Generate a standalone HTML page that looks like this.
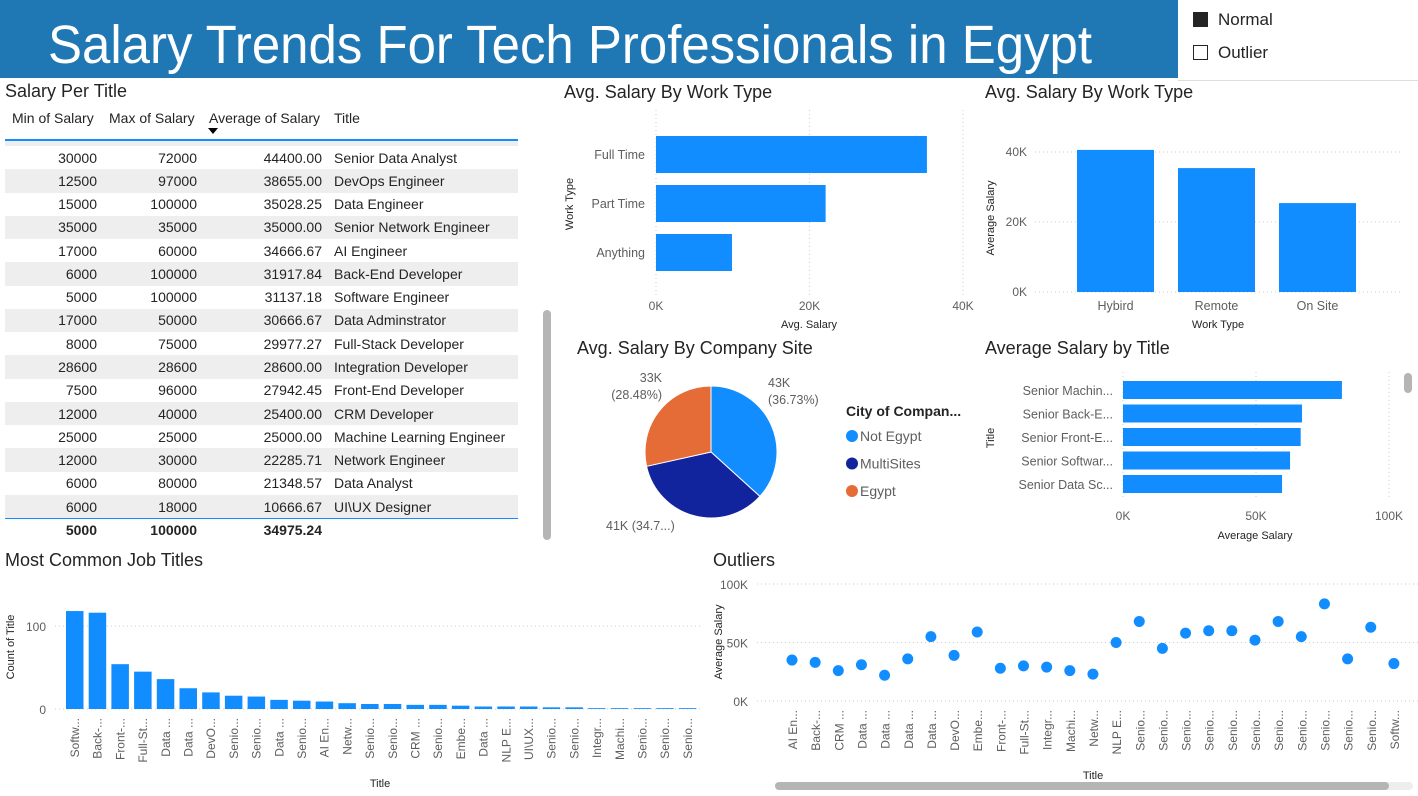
<!DOCTYPE html>
<html><head><meta charset="utf-8">
<style>
body{margin:0;width:1418px;height:796px;overflow:hidden;background:#fff;font-family:"Liberation Sans",sans-serif;position:relative}
.abs{position:absolute}
.t{font-size:18px;color:#252423}
table{border-collapse:collapse;font-size:14px;color:#252423}
td{height:23.27px;padding:0;white-space:nowrap}
</style></head><body>
<div class="abs" style="left:0;top:0;width:1178px;height:78px;background:#1f77b4"></div>
<svg class="abs" style="left:0;top:0" width="1178" height="78"><text x="48" y="63" font-size="54" fill="#fff" textLength="1044" lengthAdjust="spacingAndGlyphs" font-family="Liberation Sans,sans-serif">Salary Trends For Tech Professionals in Egypt</text></svg>
<div class="abs" style="left:1178px;top:0;width:240px;height:80px;border-bottom:1px solid #ddd"></div>
<div class="abs" style="left:1193px;top:10px;font-size:17px;color:#252423"><span style="display:inline-block;width:15px;height:15px;background:#252423;vertical-align:-2px;margin-right:10px"></span>Normal</div>
<div class="abs" style="left:1193px;top:43px;font-size:17px;color:#252423"><span style="display:inline-block;width:13px;height:13px;border:1px solid #252423;vertical-align:-2px;margin-right:10px"></span>Outlier</div>

<div class="abs t" style="left:5px;top:81px">Salary Per Title</div>
<div class="abs" style="left:0;top:110px;width:518px;font-size:14px;color:#252423">
<span class="abs" style="left:12px">Min of Salary</span><span class="abs" style="left:109px">Max of Salary</span><span class="abs" style="left:209px">Average of Salary</span><span class="abs" style="left:334px">Title</span>
<span class="abs" style="left:208px;top:18px;width:0;height:0;border-left:5px solid transparent;border-right:5px solid transparent;border-top:6px solid #000"></span></div>
<div class="abs" style="left:5px;top:139px;width:513px;height:2px;background:#118DFF"></div>
<div class="abs" style="left:5px;top:141px;width:513px;height:5px;background:#eee"></div>
<div class="abs" style="left:5px;top:146px;width:513px">
<table style="width:513px" id="tbl"></table></div>
<div class="abs" style="left:5px;top:518px;width:513px;height:1px;background:#118DFF"></div>
<div class="abs" style="left:5px;top:522px;width:513px;font-size:14px;font-weight:bold;color:#252423">
<span class="abs" style="right:421px">5000</span><span class="abs" style="right:321px">100000</span><span class="abs" style="right:196px">34975.24</span></div>
<div class="abs" style="left:543px;top:310px;width:8px;height:230px;background:#b5b5b5;border-radius:4px"></div>

<svg id="ch" class="abs" style="left:0;top:0" width="1418" height="796" font-family="Liberation Sans,sans-serif"></svg>
<script>
const rows=[[30000,72000,"44400.00","Senior Data Analyst"],[12500,97000,"38655.00","DevOps Engineer"],[15000,100000,"35028.25","Data Engineer"],[35000,35000,"35000.00","Senior Network Engineer"],[17000,60000,"34666.67","AI Engineer"],[6000,100000,"31917.84","Back-End Developer"],[5000,100000,"31137.18","Software Engineer"],[17000,50000,"30666.67","Data Adminstrator"],[8000,75000,"29977.27","Full-Stack Developer"],[28600,28600,"28600.00","Integration Developer"],[7500,96000,"27942.45","Front-End Developer"],[12000,40000,"25400.00","CRM Developer"],[25000,25000,"25000.00","Machine Learning Engineer"],[12000,30000,"22285.71","Network Engineer"],[6000,80000,"21348.57","Data Analyst"],[6000,18000,"10666.67","UI\\UX Designer"]];
const tb=document.getElementById('tbl');
rows.forEach((r,i)=>{const tr=document.createElement('tr');


if(i%2==1)tr.style.background='#eee';
tr.innerHTML=`<td style="width:92px;text-align:right">${r[0]}</td><td style="width:100px;text-align:right">${r[1]}</td><td style="width:125px;text-align:right">${r[2]}</td><td style="padding-left:12px">${r[3]}</td>`;tb.appendChild(tr);});

const S=document.getElementById('ch');const NS='http://www.w3.org/2000/svg';
function el(tag,a,txt){const e=document.createElementNS(NS,tag);for(const k in a)e.setAttribute(k,a[k]);if(txt!==undefined)e.textContent=txt;S.appendChild(e);return e;}
const blue='#118DFF',grey='#605E5C';
function title(x,y,t,n){const e=el('text',{x,y,'font-size':18,fill:'#252423'},t);}
function grid(x1,y1,x2,y2){el('line',{x1,y1,x2,y2,stroke:'#ccc','stroke-dasharray':'1 3'});}

// Chart 1: work type horizontal
const wtCats=['Full Time','Part Time','Anything'];
const wtVals=[35300,22100,9900];
const wtTicks=[0,20000,40000];const wtTickLbl=['0K','20K','40K'];
title(564,98,'Avg. Salary By Work Type','worktype-hbar-title');
const x1=v=>656+v/40000*307;
wtTicks.forEach((t,i)=>{grid(x1(t),110,x1(t),295);el('text',{x:x1(t),y:310,'font-size':12,fill:grey,'text-anchor':'middle'},wtTickLbl[i]);});
wtCats.forEach((c,i)=>{const y=136+i*49;const b=el('rect',{x:656,y,width:x1(wtVals[i])-656,height:37,fill:blue});


el('text',{x:645,y:y+23,'font-size':12.5,fill:grey,'text-anchor':'end'},c);});
el('text',{x:809,y:328,'font-size':11,fill:'#252423','text-anchor':'middle'},'Avg. Salary');
el('text',{x:0,y:0,'font-size':11,fill:'#252423','text-anchor':'middle',transform:'translate(573,204) rotate(-90)'},'Work Type');

// Chart 2: work type vertical
const wt2Cats=['Hybird','Remote','On Site'];
const wt2Vals=[40600,35400,25400];
const wt2Ticks=[0,20000,40000];const wt2Lbl=['0K','20K','40K'];
title(985,98,'Avg. Salary By Work Type','worktype-vbar-title');
const y2=v=>292-v/40000*140;
wt2Ticks.forEach((t,i)=>{grid(1035,y2(t),1400,y2(t));el('text',{x:1027,y:y2(t)+4,'font-size':12,fill:grey,'text-anchor':'end'},wt2Lbl[i]);});
wt2Cats.forEach((c,i)=>{const x=1077+i*101;const b=el('rect',{x,y:y2(wt2Vals[i]),width:77,height:292-y2(wt2Vals[i]),fill:blue});


el('text',{x:x+38.5,y:310,'font-size':12.5,fill:grey,'text-anchor':'middle'},c);});
el('text',{x:1218,y:328,'font-size':11,fill:'#252423','text-anchor':'middle'},'Work Type');
el('text',{x:0,y:0,'font-size':11,fill:'#252423','text-anchor':'middle',transform:'translate(994,218) rotate(-90)'},'Average Salary');

// Pie
const pieCats=['Not Egypt','MultiSites','Egypt'];
const pieVals=[36.73,34.79,28.48];
const pieCols=['#118DFF','#12239E','#E66C37'];
title(577,354,'Avg. Salary By Company Site','pie-title');
let a0=-Math.PI/2;const cx=711,cy=452,r=66;
pieVals.forEach((v,i)=>{const a1=a0+v/100*2*Math.PI;const p=el('path',{d:`M${cx},${cy}L${cx+r*Math.cos(a0)},${cy+r*Math.sin(a0)}A${r},${r} 0 ${a1-a0>Math.PI?1:0} 1 ${cx+r*Math.cos(a1)},${cy+r*Math.sin(a1)}Z`,fill:pieCols[i],stroke:'#fff','stroke-width':1});

a0=a1;});
el('text',{x:768,y:387,'font-size':12.5,fill:grey},'43K');el('text',{x:768,y:404,'font-size':12.5,fill:grey},'(36.73%)');
el('text',{x:662,y:382,'font-size':12.5,fill:grey,'text-anchor':'end'},'33K');el('text',{x:662,y:399,'font-size':12.5,fill:grey,'text-anchor':'end'},'(28.48%)');
el('text',{x:606,y:530,'font-size':12.5,fill:grey},'41K (34.7...)');
el('text',{x:846,y:416,'font-size':14,'font-weight':'bold',fill:'#252423'},'City of Compan...');
pieCats.forEach((c,i)=>{el('circle',{cx:852,cy:436+i*27.5,r:6,fill:pieCols[i]});el('text',{x:860,y:441+i*27.5,'font-size':14,fill:grey},c);});

// Avg salary by title
const atCats=['Senior Machin...','Senior Back-E...','Senior Front-E...','Senior Softwar...','Senior Data Sc...'];
const atVals=[82300,67300,66800,62800,59800];
const atTicks=[0,50000,100000];const atLbl=['0K','50K','100K'];
title(985,354,'Average Salary by Title','title-hbar-title');
const x3=v=>1123+v/100000*266;
atTicks.forEach((t,i)=>{grid(x3(t),372,x3(t),500);el('text',{x:x3(t),y:520,'font-size':12,fill:grey,'text-anchor':'middle'},atLbl[i]);});
atCats.forEach((c,i)=>{const y=381+i*23.5;const b=el('rect',{x:1123,y,width:x3(atVals[i])-1123,height:18,fill:blue});


el('text',{x:1113,y:y+14,'font-size':12.5,fill:grey,'text-anchor':'end'},c);});
el('text',{x:1255,y:539,'font-size':11,fill:'#252423','text-anchor':'middle'},'Average Salary');
el('text',{x:0,y:0,'font-size':11,fill:'#252423','text-anchor':'middle',transform:'translate(994,438) rotate(-90)'},'Title');
el('rect',{x:1404,y:373,width:8,height:20,rx:4,fill:'#b5b5b5'});

// Most common job titles
const jtCats=['Softw...','Back-...','Front-...','Full-St...','Data ...','Data ...','DevO...','Senio...','Senio...','Data ...','Senio...','AI En...','Netw...','Senio...','Senio...','CRM ...','Senio...','Embe...','Data ...','NLP E...','UI\\UX...','Senio...','Senio...','Integr...','Machi...','Senio...','Senio...','Senio...'];
const jtVals=[118,116,54,45,36,25,20,16,15,11,10,9,7,6,6,5,5,4,3,3,3,2,2,1,1,1,1,1];
const jtTicks=[0,100];
title(5,566,'Most Common Job Titles','job-titles-title');
const y4=v=>709-v*0.83;
jtTicks.forEach(t=>{grid(55,y4(t),703,y4(t));el('text',{x:46,y:y4(t)+5,'font-size':12,fill:grey,'text-anchor':'end'},t);});
jtCats.forEach((c,i)=>{const x=66+i*22.7;const b=el('rect',{x,y:y4(jtVals[i]),width:17.5,height:709-y4(jtVals[i]),fill:blue});


el('text',{x:0,y:0,'font-size':12,fill:grey,'text-anchor':'end',transform:`translate(${x+13},718) rotate(-90)`},c);});
el('text',{x:380,y:787,'font-size':11,fill:'#252423','text-anchor':'middle'},'Title');
el('text',{x:0,y:0,'font-size':11,fill:'#252423','text-anchor':'middle',transform:'translate(14,647) rotate(-90)'},'Count of Title');

// Outliers scatter
const ocCats=['AI En...','Back-...','CRM ...','Data ...','Data ...','Data ...','Data ...','DevO...','Embe...','Front-...','Full-St...','Integr...','Machi...','Netw...','NLP E...','Senio...','Senio...','Senio...','Senio...','Senio...','Senio...','Senio...','Senio...','Senio...','Senio...','Senio...','Softw...'];
const ocVals=[35,33,26,31,22,36,55,39,59,28,30,29,26,23,50,68,45,58,60,60,52,68,55,83,36,63,32];
const ocTicks=[0,50,100];
title(713,566,'Outliers','outliers-title');
const y5=v=>701-v/100*117;
ocTicks.forEach(t=>{grid(757,y5(t),1418,y5(t));el('text',{x:748,y:y5(t)+5,'font-size':12,fill:grey,'text-anchor':'end'},t+'K');});
ocCats.forEach((c,i)=>{const x=792+i*23.15;const d=el('circle',{cx:x,cy:y5(ocVals[i]),r:5.5,fill:blue});


el('text',{x:0,y:0,'font-size':12,fill:grey,'text-anchor':'end',transform:`translate(${x+5},710) rotate(-90)`},c);});
el('text',{x:1093,y:779,'font-size':11,fill:'#252423','text-anchor':'middle'},'Title');
el('text',{x:0,y:0,'font-size':11,fill:'#252423','text-anchor':'middle',transform:'translate(722,642) rotate(-90)'},'Average Salary');
el('rect',{x:775,y:782,width:638,height:8,rx:4,fill:'#eee'});
const sb=el('rect',{x:775,y:782,width:614,height:8,rx:4,fill:'#b5b5b5'});


</script>
</body></html>
